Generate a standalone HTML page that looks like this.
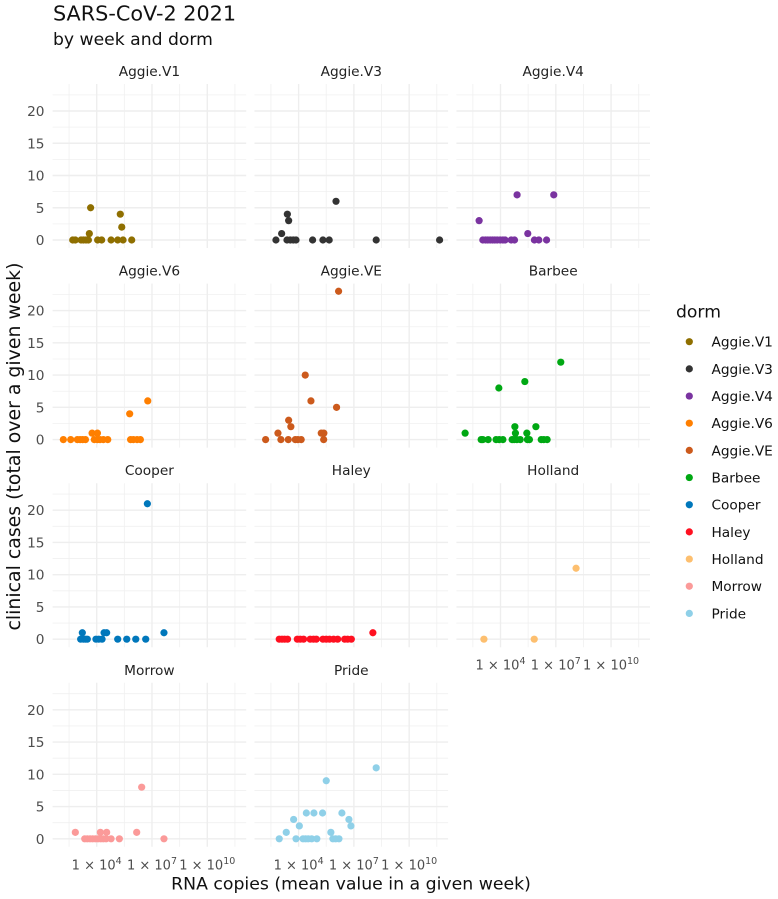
<!DOCTYPE html>
<html lang="en">
<head>
<meta charset="utf-8">
<title>SARS-CoV-2 2021</title>
<style>
html,body{margin:0;padding:0;background:#fff;}
svg{display:block;}
text{font-family:"DejaVu Sans","Liberation Sans",sans-serif;}
</style>
</head>
<body>
<svg id="chart" xmlns="http://www.w3.org/2000/svg" width="778" height="899" viewBox="0 0 778 899">
  <text x="53" y="20.5" font-size="20.75" fill="#111">SARS-CoV-2 2021</text>
  <text x="53" y="45" font-size="17.2" fill="#111">by week and dorm</text>
  <text x="351" y="889.5" font-size="17.3" text-anchor="middle" fill="#111">RNA copies (mean value in a given week)</text>
  <text transform="translate(20,446.5) rotate(-90)" font-size="18.9" text-anchor="middle" fill="#111">clinical cases (total over a given week)</text>
  <g id="panels"></g>
  <g id="legend">
    <text x="676" y="317.5" font-size="17.2" fill="#111">dorm</text>
  </g>
</svg>
<script>
const dorms = ["Aggie.V1","Aggie.V3","Aggie.V4","Aggie.V6","Aggie.VE","Barbee","Cooper","Haley","Holland","Morrow","Pride"];
const dormColors = ["#8f6f00","#333333","#7a33a0","#ff7f00","#cc5a1c","#00a813","#0077bb","#ff1020","#fdbf6f","#fb9a99","#8fd0e8"];

const yTicks = [0,5,10,15,20];
const yMinorTicks = [2.5,7.5,12.5,17.5,22.5];
const xTickExponents = [4,7,10];
const xMinorExponents = [2.5,5.5,8.5,11.5];

const aggieV1Log10 = [2.70,2.84,3.15,3.28,3.42,3.55,4.05,4.27,4.78,5.14,5.43,5.90,3.60,3.67,5.28,5.36];
const aggieV1Cases = [0,0,0,0,0,0,0,0,0,0,0,0,1,5,4,2];
const aggieV3Log10 = [2.77,3.37,3.55,3.71,3.86,4.76,5.32,5.66,8.21,11.65,3.08,3.46,3.39,6.03];
const aggieV3Cases = [0,0,0,0,0,0,0,0,0,0,1,3,4,6];
const aggieV4Log10 = [3.04,3.19,3.31,3.44,3.57,3.69,3.82,3.98,4.13,4.25,4.58,4.76,5.84,6.08,6.50,2.84,4.90,6.89,5.48];
const aggieV4Cases = [0,0,0,0,0,0,0,0,0,0,0,0,0,0,0,3,7,7,1];
const aggieV6Log10 = [2.19,2.59,2.95,3.10,3.24,3.39,3.87,4.04,4.18,4.36,4.60,5.84,5.99,6.19,6.37,3.75,4.04,5.79,6.77];
const aggieV6Cases = [0,0,0,0,0,0,0,0,0,0,0,0,0,0,0,1,1,4,6];
const aggieVELog10 = [2.21,3.04,3.44,3.82,3.96,4.14,5.36,2.88,5.23,5.37,3.58,3.46,6.06,4.67,4.36,6.17];
const aggieVECases = [0,0,0,0,0,0,0,1,1,1,2,3,5,6,10,23];
const barbeeLog10 = [2.95,3.04,3.33,3.76,3.93,4.13,4.63,4.74,4.89,5.07,5.46,5.57,6.21,6.35,6.53,2.08,4.81,5.43,4.78,5.92,3.91,5.32,7.27];
const barbeeCases = [0,0,0,0,0,0,0,0,0,0,0,0,0,0,0,1,1,1,2,2,8,9,12];
const cooperLog10 = [3.13,3.28,3.39,3.49,3.96,4.11,4.29,5.14,5.63,6.12,6.66,3.22,4.40,4.54,7.65,6.75];
const cooperCases = [0,0,0,0,0,0,0,0,0,0,0,1,1,1,1,21];
const haleyLog10 = [2.95,3.10,3.24,3.40,3.93,4.09,4.27,4.63,4.81,4.96,5.32,5.50,5.68,5.90,6.12,6.50,6.66,6.86,8.03];
const haleyCases = [0,0,0,0,0,0,0,0,0,0,0,0,0,0,0,0,0,0,1];
const hollandLog10 = [3.10,5.83,8.10];
const hollandCases = [0,0,11];
const morrowLog10 = [3.35,3.49,3.64,3.78,3.93,4.07,4.22,4.36,4.51,4.78,5.23,7.65,2.84,4.20,4.54,6.17,6.44];
const morrowCases = [0,0,0,0,0,0,0,0,0,0,0,0,1,1,1,1,8];
const prideLog10 = [2.95,3.86,4.24,4.38,4.52,4.71,4.99,5.86,6.01,6.19,3.33,5.75,4.04,6.84,3.73,6.73,4.42,4.83,5.30,6.35,5.50,8.21];
const prideCases = [0,0,0,0,0,0,0,0,0,0,1,1,2,2,3,3,4,4,4,4,9,11];

const log10Series = [aggieV1Log10,aggieV3Log10,aggieV4Log10,aggieV6Log10,aggieVELog10,barbeeLog10,cooperLog10,haleyLog10,hollandLog10,morrowLog10,prideLog10];
const caseSeries = [aggieV1Cases,aggieV3Cases,aggieV4Cases,aggieV6Cases,aggieVECases,barbeeCases,cooperCases,haleyCases,hollandCases,morrowCases,prideCases];

const NS = "http://www.w3.org/2000/svg";
const panelsRoot = document.getElementById("panels");
const legendRoot = document.getElementById("legend");

function panelLeft(col){ return 52.6 + col * 201.9; }
function panelRight(col){ return panelLeft(col) + 193.6; }
function zeroY(row){ return 240 + row * 199.6; }
function xScale(col, exponent){ return panelLeft(col) + 44.1 + (exponent - 4) * 18.43; }
function yScale(row, value){ return zeroY(row) - value * 6.45; }

function make(tag, attrs, parent){
  const el = document.createElementNS(NS, tag);
  for (const k in attrs) el.setAttribute(k, attrs[k]);
  parent.appendChild(el);
  return el;
}

dorms.forEach(function(dorm, i){
  const col = i % 3;
  const row = Math.floor(i / 3);
  const slug = dorm.toLowerCase().replace(".", "-");
  const left = panelLeft(col), right = panelRight(col);
  const top = zeroY(row) - 156, bottom = zeroY(row) + 8;

  const g = make("g", {}, panelsRoot);
  
  

  yMinorTicks.forEach(function(t){
    const y = yScale(row, t);
    const line = make("line", {x1:left, x2:right, y1:y, y2:y, stroke:"#f0f0f0", "stroke-width":0.8}, g);
    
    
  });
  xMinorExponents.forEach(function(t){
    const x = xScale(col, t);
    const line = make("line", {x1:x, x2:x, y1:top, y2:bottom, stroke:"#f0f0f0", "stroke-width":0.8}, g);
    
    
  });
  yTicks.forEach(function(t){
    const y = yScale(row, t);
    const line = make("line", {x1:left, x2:right, y1:y, y2:y, stroke:"#eeeeee", "stroke-width":1.4}, g);
    
    
  });
  xTickExponents.forEach(function(t){
    const x = xScale(col, t);
    const line = make("line", {x1:x, x2:x, y1:top, y2:bottom, stroke:"#eeeeee", "stroke-width":1.4}, g);
    
    
  });

  const strip = make("text", {x:(left+right)/2, y:zeroY(row)-164, "font-size":13.7, "text-anchor":"middle", fill:"#222"}, g);
  
  
  strip.textContent = dorm;

  if (col === 0) {
    yTicks.forEach(function(t){
      const label = make("text", {x:44.5, y:yScale(row,t)+5, "font-size":13.7, "text-anchor":"end", fill:"#4d4d4d"}, g);
      
      
      label.textContent = String(t);
    });
  }

  if (i >= dorms.length - 3) {
    xTickExponents.forEach(function(t){
      const label = make("text", {x:xScale(col,t), y:zeroY(row)+30.5, "font-size":13, "text-anchor":"middle", fill:"#4d4d4d"}, g);
      
      
      label.appendChild(document.createTextNode("1 \u00d7 10"));
      const sup = make("tspan", {dy:-5.5, "font-size":9.5}, label);
      sup.textContent = String(t);
    });
  }

  log10Series[i].forEach(function(v, k){
    const c = make("circle", {cx:xScale(col,v), cy:yScale(row,caseSeries[i][k]), r:3.6, fill:dormColors[i]}, g);
    
    
  });

  const ly = 341.7 + i * 27.17;
  const entry = make("g", {}, legendRoot);
  
  
  make("circle", {cx:689.3, cy:ly, r:3.6, fill:dormColors[i]}, entry);
  const lt = make("text", {x:711.5, y:ly+5, "font-size":13.7, fill:"#111"}, entry);
  lt.textContent = dorm;
});
</script>
</body>
</html>
